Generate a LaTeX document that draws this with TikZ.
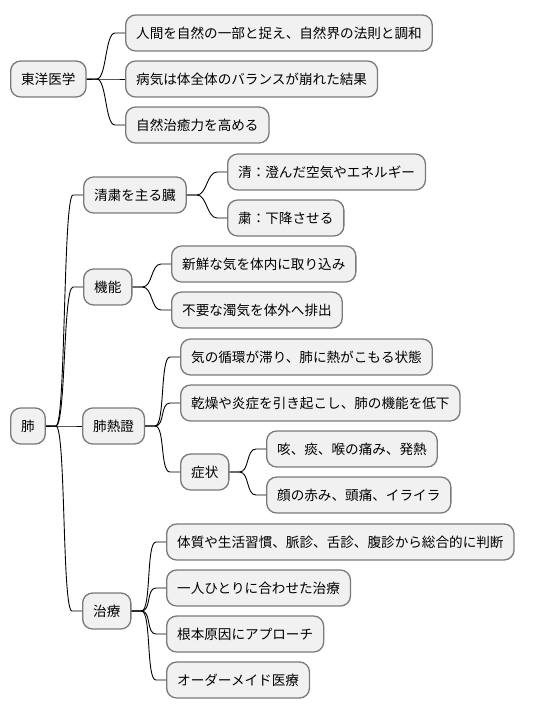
\documentclass[tikz,border=0pt]{standalone}
\usepackage{fontspec}
\usepackage{tikz}
\setmainfont{Noto Sans CJK JP}

\definecolor{boxfill}{HTML}{F1F1F1}
\definecolor{boxline}{HTML}{7A7A7A}

\begin{document}
\begin{tikzpicture}[x=1pt,y=-1pt]
	\tikzstyle{box}=[draw=boxline, fill=boxfill, line width=1.3pt, rounded corners=10pt, inner xsep=10.5pt, inner ysep=0pt, minimum height=36pt, anchor=west, font=\fontsize{13.6}{16}\selectfont]
	\tikzstyle{link}=[black, line width=0.9pt]
	\useasboundingbox (0,0) rectangle (538,715);
	\node [box] (toyo) at (10,79) {東洋医学};
	\node [box] (ningen) at (125,33) {人間を自然の一部と捉え、自然界の法則と調和};
	\node [box] (byoki) at (125,79) {病気は体全体のバランスが崩れた結果};
	\node [box] (chiyu) at (125,125) {自然治癒力を高める};
	\node [box] (hai) at (10,426) {肺};
	\node [box] (seishuku) at (83,195) {清粛を主る臓};
	\node [box] (sei) at (227,172) {清：澄んだ空気やエネルギー};
	\node [box] (shuku) at (227,218) {粛：下降させる};
	\node [box] (kino) at (83,287) {機能};
	\node [box] (torikomi) at (171,264) {新鮮な気を体内に取り込み};
	\node [box] (haishutsu) at (171,310) {不要な濁気を体外へ排出};
	\node [box] (hainetsu) at (82,426) {肺熱證};
	\node [box] (junkan) at (180,357) {気の循環が滞り、肺に熱がこもる状態};
	\node [box] (kanso) at (180,403) {乾燥や炎症を引き起こし、肺の機能を低下};
	\node [box] (shojo) at (180,472) {症状};
	\node [box] (seki) at (266,449) {咳、痰、喉の痛み、発熱};
	\node [box] (kao) at (266,495) {顔の赤み、頭痛、イライラ};
	\node [box] (chiryo) at (82,611) {治療};
	\node [box] (taishitsu) at (166,542) {体質や生活習慣、脈診、舌診、腹診から総合的に判断};
	\node [box] (hitori) at (166,588) {一人ひとりに合わせた治療};
	\node [box] (konpon) at (166,634) {根本原因にアプローチ};
	\node [box] (order) at (166,680) {オーダーメイド医療};
	\draw [link] (toyo.east) -- ++(10,0) .. controls +(10,0) and +(-10,0) .. ([xshift=-10pt]ningen.west) -- (ningen.west);
	\draw [link] (toyo.east) -- ++(10,0) .. controls +(10,0) and +(-10,0) .. ([xshift=-10pt]byoki.west) -- (byoki.west);
	\draw [link] (toyo.east) -- ++(10,0) .. controls +(10,0) and +(-10,0) .. ([xshift=-10pt]chiyu.west) -- (chiyu.west);
	\draw [link] (hai.east) -- ++(10,0) .. controls +(10,0) and +(-10,0) .. ([xshift=-10pt]seishuku.west) -- (seishuku.west);
	\draw [link] (hai.east) -- ++(10,0) .. controls +(10,0) and +(-10,0) .. ([xshift=-10pt]kino.west) -- (kino.west);
	\draw [link] (hai.east) -- ++(10,0) .. controls +(10,0) and +(-10,0) .. ([xshift=-10pt]hainetsu.west) -- (hainetsu.west);
	\draw [link] (hai.east) -- ++(10,0) .. controls +(10,0) and +(-10,0) .. ([xshift=-10pt]chiryo.west) -- (chiryo.west);
	\draw [link] (seishuku.east) -- ++(10,0) .. controls +(10,0) and +(-10,0) .. ([xshift=-10pt]sei.west) -- (sei.west);
	\draw [link] (seishuku.east) -- ++(10,0) .. controls +(10,0) and +(-10,0) .. ([xshift=-10pt]shuku.west) -- (shuku.west);
	\draw [link] (kino.east) -- ++(10,0) .. controls +(10,0) and +(-10,0) .. ([xshift=-10pt]torikomi.west) -- (torikomi.west);
	\draw [link] (kino.east) -- ++(10,0) .. controls +(10,0) and +(-10,0) .. ([xshift=-10pt]haishutsu.west) -- (haishutsu.west);
	\draw [link] (hainetsu.east) -- ++(10,0) .. controls +(10,0) and +(-10,0) .. ([xshift=-10pt]junkan.west) -- (junkan.west);
	\draw [link] (hainetsu.east) -- ++(10,0) .. controls +(10,0) and +(-10,0) .. ([xshift=-10pt]kanso.west) -- (kanso.west);
	\draw [link] (hainetsu.east) -- ++(10,0) .. controls +(10,0) and +(-10,0) .. ([xshift=-10pt]shojo.west) -- (shojo.west);
	\draw [link] (shojo.east) -- ++(10,0) .. controls +(10,0) and +(-10,0) .. ([xshift=-10pt]seki.west) -- (seki.west);
	\draw [link] (shojo.east) -- ++(10,0) .. controls +(10,0) and +(-10,0) .. ([xshift=-10pt]kao.west) -- (kao.west);
	\draw [link] (chiryo.east) -- ++(10,0) .. controls +(10,0) and +(-10,0) .. ([xshift=-10pt]taishitsu.west) -- (taishitsu.west);
	\draw [link] (chiryo.east) -- ++(10,0) .. controls +(10,0) and +(-10,0) .. ([xshift=-10pt]hitori.west) -- (hitori.west);
	\draw [link] (chiryo.east) -- ++(10,0) .. controls +(10,0) and +(-10,0) .. ([xshift=-10pt]konpon.west) -- (konpon.west);
	\draw [link] (chiryo.east) -- ++(10,0) .. controls +(10,0) and +(-10,0) .. ([xshift=-10pt]order.west) -- (order.west);
\end{tikzpicture}
\end{document}
